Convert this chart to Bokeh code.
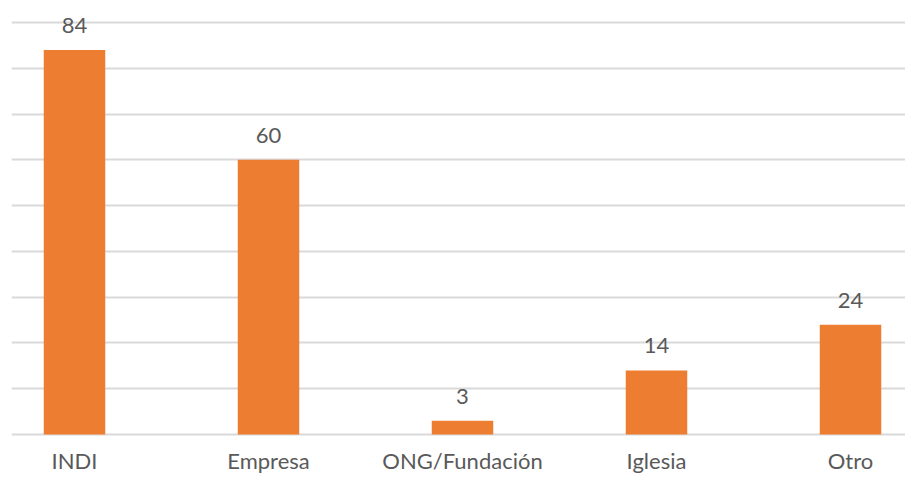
from bokeh.plotting import figure
from bokeh.models import ColumnDataSource, Range1d, FixedTicker, LabelSet
from bokeh.core.properties import value
from bokeh.embed import file_html
from bokeh.resources import INLINE

categories = ["INDI", "Empresa", "ONG/Fundación", "Iglesia", "Otro"]
values = [84, 60, 3, 14, 24]
grid_ticks = [0, 10, 20, 30, 40, 50, 60, 70, 80, 90]

positions = list(range(len(categories)))
source = ColumnDataSource(dict(x=positions, top=values, label=[str(v) for v in values],
                               cat=categories, zero=[0] * len(values)))

p = figure(width=905, height=475, output_backend="svg", toolbar_location=None,
           x_range=Range1d(-0.3247, 4.2835), y_range=Range1d(-8.956, 94.806),
           min_border_left=11, min_border_right=0, min_border_top=0, min_border_bottom=0)

p.vbar(x="x", top="top", width=0.317, bottom=0, source=source,
       fill_color="#ED7D31", line_color=None)

labels = LabelSet(x="x", y="top", text="label", source=source,
                  text_align="center", text_baseline="alphabetic", y_offset=17,
                  text_font=value("Lato"), text_font_size="22px", text_color="#595959")
p.add_layout(labels)

cat_labels = LabelSet(x="x", y="zero", text="cat", source=source,
                      text_align="center", text_baseline="alphabetic", y_offset=-34,
                      text_font=value("Lato"), text_font_size="22px", text_color="#595959")
p.add_layout(cat_labels)

p.xaxis.visible = False
p.yaxis.visible = False
p.xgrid.visible = False
p.ygrid.ticker = FixedTicker(ticks=grid_ticks)
p.ygrid.grid_line_color = "#D9D9D9"
p.ygrid.grid_line_width = 2
p.outline_line_color = None
p.background_fill_color = "white"
p.border_fill_color = "white"

open("out.html", "w").write(file_html(p, INLINE))
